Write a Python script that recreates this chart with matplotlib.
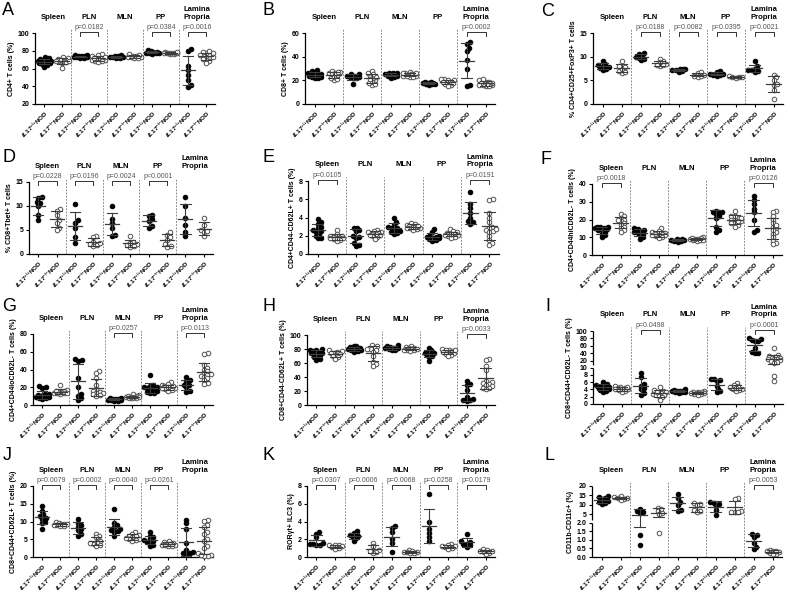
import numpy as np
import matplotlib
matplotlib.use('Agg')
import matplotlib.pyplot as plt

plt.rcParams['font.family'] = ['Liberation Sans', 'DejaVu Sans']
plt.rcParams['mathtext.fontset'] = 'custom'
plt.rcParams['mathtext.it'] = 'Liberation Sans:italic:bold'
plt.rcParams['mathtext.rm'] = 'Liberation Sans:bold'
plt.rcParams['mathtext.bf'] = 'Liberation Sans:bold'

TISSUES = ['Spleen', 'PLN', 'MLN', 'PP', 'Lamina\nPropria']
XLABELS = [r'$\mathit{IL17}^{{+}/{+}}$NOD', r'$\mathit{IL17}^{{-}/{-}}$NOD'] * 5

# values per tissue: Spleen, PLN, MLN, PP, Lamina Propria
A_WT = [[66, 68, 70, 72, 64, 67, 69, 71, 65, 73, 68, 66, 70, 62, 67],
        [73, 74, 75, 72, 73, 74, 73, 72, 75, 74],
        [73, 74, 72, 73, 75, 74, 73, 72],
        [78, 79, 80, 77, 78, 81, 79, 76, 78],
        [80, 82, 63, 53, 47, 39, 41, 58]]
A_KO = [[68, 70, 72, 66, 69, 71, 67, 73, 61, 68, 70, 69],
        [70, 72, 74, 76, 68, 69, 71, 73, 67, 70, 75, 72],
        [73, 74, 72, 75, 73, 74, 76, 72, 73],
        [77, 78, 76, 79, 77, 78, 77, 76, 78, 79],
        [72, 74, 76, 78, 80, 68, 70, 75, 77, 73, 71, 79, 66, 75]]

B_WT = [[22, 24, 25, 26, 27, 29, 23, 25, 24, 26, 28, 22, 25, 24, 23],
        [17, 22, 23, 24, 25, 24, 23, 25, 24, 22],
        [23, 25, 26, 25, 24, 26, 25, 24, 26, 22],
        [17, 18, 19, 17, 18, 16, 18, 17, 19, 18],
        [51, 52, 47, 45, 30, 37, 15, 16]]
B_KO = [[20, 22, 24, 26, 27, 28, 25, 23, 21, 26, 27],
        [16, 18, 20, 22, 24, 26, 28, 19, 23, 25, 21, 17],
        [23, 24, 25, 26, 27, 24, 25, 26, 25, 24, 26, 23],
        [16, 18, 19, 20, 21, 17, 19, 20, 18, 21, 15, 19],
        [15, 16, 17, 18, 19, 20, 21, 16, 17, 18, 15, 19, 17, 16]]

C_WT = [[7.5, 8, 8.5, 9, 7.2, 7.8, 8.2, 7.6],
        [9.5, 10, 10.5, 10.8, 9.2, 9.8, 10.2],
        [7, 7.2, 7.5, 7.3, 6.8, 7.4, 7.1],
        [6, 6.3, 6.8, 7, 6.2, 6.1, 6.4],
        [6.8, 7, 7.2, 7.5, 8, 9, 7.1]]
C_KO = [[6.5, 7, 7.5, 8, 9, 6.8, 7.8],
        [8, 8.5, 9, 9.5, 8.2, 8.8, 8.3],
        [5.8, 6, 6.5, 6.8, 6.2, 5.9],
        [5.5, 5.7, 5.8, 6, 5.6],
        [6.2, 5.6, 5.1, 4.1, 4.3, 3.0, 1.1]]

D_WT = [[11.8, 11.6, 10.9, 10.6, 10, 8.2, 7],
        [10.5, 7, 6.5, 5.5, 3.5, 2.2],
        [10, 7.2, 6.5, 5.5, 4, 3.8],
        [8.2, 8, 7.2, 6.8, 5.5, 5.8],
        [11.8, 10, 7.5, 6, 4.5, 3.8]]
D_KO = [[9.3, 9, 8.2, 7, 5.5, 5, 6.5],
        [3.8, 3.5, 2.5, 2, 1.8, 1.7, 2.2],
        [3.8, 2.5, 2, 1.8, 1.5, 2.2, 1.6],
        [4.5, 4, 3.5, 3, 2, 1.6, 1.5],
        [7.5, 6, 5, 4.5, 3.8, 4.8]]

E_WT = [[3.8, 3.5, 3.3, 3.0, 2.8, 2.6, 2.4, 2.2, 2.0, 1.8, 1.7, 2.5],
        [2.9, 2.8, 2.6, 2.0, 1.9, 1.8, 1.2, 1.0, 0.9, 2.5],
        [4.0, 3.5, 3.2, 3.0, 2.8, 2.6, 2.5, 2.4, 2.2, 2.3, 2.9],
        [2.7, 2.4, 2.1, 2.0, 1.9, 1.8, 1.7, 1.6, 1.5, 1.4, 1.9],
        [6.8, 5.5, 5.0, 4.5, 4.0, 3.5, 3.3, 3.6]]
E_KO = [[2.6, 2.2, 2.0, 1.9, 1.8, 1.7, 1.6, 1.5, 1.4, 1.8, 2.0, 1.7],
        [2.6, 2.5, 2.4, 2.3, 2.2, 2.1, 2.0, 1.9, 1.6, 2.2, 2.4, 2.1],
        [3.4, 3.3, 3.2, 3.1, 3.0, 2.9, 2.8, 2.7, 2.6, 3.0, 3.1, 2.9],
        [2.7, 2.5, 2.4, 2.3, 2.2, 2.1, 2.0, 1.9, 1.8, 2.2, 2.1],
        [6.0, 5.9, 4.5, 4.0, 3.5, 3.0, 2.8, 2.6, 2.4, 2.0, 1.5, 1.2, 1.0, 2.5, 2.7]]

F_WT = [[16, 15.5, 15, 14.5, 14, 13, 12, 11, 10, 15, 16, 14],
        [15, 14.5, 14, 13, 12, 11, 10, 9, 12.5, 13.5],
        [9, 8.5, 8, 7.5, 8.2, 8.8, 7.8, 8.4],
        [25, 24, 24, 23, 22, 16, 14, 13, 21, 24],
        [33, 31, 29, 26, 24, 20, 14, 13]]
F_KO = [[23, 22, 21, 20, 19, 18, 17, 16, 15, 14, 13, 20],
        [15, 13, 12.5, 12, 11.5, 11, 10.5, 10, 9.5, 12, 11, 13.5],
        [10, 9.5, 9, 8.5, 8, 8.8, 9.2, 8.3, 9.6, 8.7],
        [25, 22, 21, 20, 19, 18, 17, 16, 20, 21, 19, 22, 18],
        [25, 24, 22, 20, 18, 16, 15, 13, 12, 10, 8, 7, 6, 14, 17]]

G_WT = [[21, 20, 19, 12, 11, 10, 9, 8, 8, 7, 10, 9, 11, 12, 9],
        [52, 51, 50, 30, 20, 12, 10, 8, 6],
        [8, 7.5, 7, 6.5, 6, 5.5, 5, 7, 6, 5],
        [34, 23, 21, 20, 19, 18, 17, 16, 15, 14, 13, 20],
        [31, 28, 27, 23, 22, 20, 16, 15]]
G_KO = [[22, 17, 16, 15, 14, 13, 12, 14, 15, 13, 16],
        [38, 36, 30, 22, 18, 16, 15, 14, 13, 12, 11, 10],
        [12, 11, 10, 9, 8.5, 8, 9, 10, 8, 7.5, 9.5],
        [26, 24, 22, 21, 20, 19, 18, 17, 16, 20, 19, 21],
        [59, 58, 45, 42, 40, 38, 36, 35, 34, 33, 32, 30, 28, 25, 24]]

H_WT = [[80, 78, 77, 76, 75, 74, 73, 72, 70, 68, 66, 65, 75, 78],
        [85, 84, 83, 82, 81, 80, 79, 78, 77, 76, 82, 80],
        [86, 84, 83, 82, 81, 80, 79, 78, 82, 81],
        [81, 78, 76, 75, 74, 72, 70, 68, 63, 75],
        [35, 30, 28, 22, 12, 8, 7, 6, 7]]
H_KO = [[78, 77, 76, 75, 74, 73, 72, 70, 68, 66],
        [86, 84, 82, 80, 78, 76, 70, 62, 58, 56, 80],
        [85, 83, 82, 81, 80, 79, 78, 77, 80, 79],
        [80, 79, 78, 77, 76, 75, 74, 73, 72, 70, 78],
        [66, 64, 56, 50, 35, 33, 31, 30, 29, 27, 25, 24, 23]]

I_WT = [[6, 5.5, 5.2, 5, 4.8, 4.5, 4.3, 4, 3.8, 3.5, 3.3, 4.6, 5.1],
        [8.5, 7.3, 5.5, 5, 4.5, 4, 3, 2.5],
        [4, 3.8, 3.6, 3.5, 3.4, 3.3, 3.2, 3.1, 3.7, 3.5],
        [7, 6.8, 6.5, 6.2, 5, 4.2, 3.5, 3.4],
        [80, 78, 76, 74, 72, 55, 45, 40, 42]]
I_KO = [[5, 4.8, 4.5, 4.3, 4.1, 4, 3.8, 3.5, 3.3, 4.2, 4.6],
        [4.8, 3.8, 3.5, 3.2, 3, 2.8, 2.6, 2.5, 2.2, 1.8, 1.2, 3.3],
        [3.6, 3.4, 3.2, 3.1, 3, 2.9, 2.8, 2.7, 2.6, 3.3, 3],
        [5.8, 5.2, 5, 4.6, 4.2, 4, 3.8, 3.5, 4.4],
        [55, 35, 32, 30, 28, 27, 26, 25, 24, 22, 20, 17, 14, 7.7, 6.2]]

J_WT = [[14.5, 13, 12, 11.5, 11, 10.8, 10, 9.5, 8],
        [10.8, 9.5, 9, 8.5, 8, 7.5, 6.5, 5.8],
        [13.5, 9.5, 9, 8.5, 7.8, 7.5, 7, 6, 7.2],
        [7, 6, 5.5, 5, 4.5, 4.2, 4, 3.5, 3, 4.8],
        [10.5, 9.5, 8, 4, 2, 1.5, 1.2, 1, 0.8]]
J_KO = [[9.8, 9.5, 9.3, 9, 8.8, 8.6, 9.2, 9.4, 9.1],
        [6.5, 6, 5.5, 4.5, 4, 3.8, 3.5, 3.2, 4.2],
        [7, 6.5, 6.2, 6, 5.8, 5.5, 5.2, 5, 4.8, 4.5, 5.3],
        [4.5, 4.2, 4, 3.8, 3.6, 3.4, 3.2, 3, 3.5, 3.3],
        [10.5, 10.2, 9, 8.5, 7, 6.5, 5, 4.5, 3, 2.5, 1, 0.5, 0.3, 0.2, 0.5]]

K_WT = [[2.8, 2.6, 2.2, 1.6, 1.5, 1.4, 1.3, 1.5],
        [2.9, 2.7, 2.5, 2.3, 2.1, 1.8, 2.4],
        [3.5, 3.3, 2.8, 2.0, 1.6, 0.6],
        [7.1, 3.9, 3.2, 2.7, 2.3, 1.8],
        [2.6, 1.8, 1.7, 1.5, 1.3, 1.1, 1.5]]
K_KO = [[1.4, 1.3, 1.2, 1.1, 1.0, 0.9, 1.3],
        [1.6, 1.2, 0.8, 0.6, 0.5, 0.7],
        [0.8, 0.7, 0.6, 0.55, 0.5, 0.45, 0.6],
        [1.5, 1.3, 1.2, 1.1, 1.0, 0.9, 1.2],
        [0.9, 0.8, 0.7, 0.6, 0.5, 0.3, 0.7]]

L_WT = [[14.5, 14, 13.5, 13, 12, 11, 10.5, 11.5],
        [7.5, 6.5, 6.2, 5.5, 1.3, 0.7],
        [15.5, 13.5, 11.5, 10, 7, 6.5],
        [11.5, 11, 10.5, 9.5, 7, 4.5],
        [1.35, 1.3, 1.2, 0.8, 0.6, 0.45]]
L_KO = [[14.5, 14, 13.5, 13, 12.5, 13.8],
        [8.5, 7.5, 6.5, 5.5, 4.8, 1.4],
        [11, 10.5, 10, 7, 6.5, 6.2],
        [13.5, 13, 6.5, 6, 6.2, 6.3],
        [0.4, 0.38, 0.35, 0.3, 0.25, 0.2, 0.15, 0.38]]

YLABELS = {
    'A': 'CD4+ T cells (%)', 'B': 'CD8+ T cells (%)',
    'C': '% CD4+CD25+FoxP3+ T cells', 'D': '% CD8+Tbet+ T cells',
    'E': 'CD4+CD44-CD62L+ T cells (%)', 'F': 'CD4+CD44hiCD62L- T cells (%)',
    'G': 'CD4+CD44loCD62L- T cells (%)', 'H': 'CD8+CD44-CD62L+ T cells (%)',
    'I': 'CD8+CD44+CD62L- T cells (%)', 'J': 'CD8+CD44+CD62L+ T cells (%)',
    'K': 'RORγt+ ILC3 (%)', 'L': 'CD11b-CD11c+ (%)',
}

PVALS = {
    'A': [None, '0.0182', None, '0.0384', '0.0016'],
    'B': [None, None, None, None, '0.0002'],
    'C': [None, '0.0188', '0.0082', '0.0395', '0.0021'],
    'D': ['0.0228', '0.0196', '0.0024', '<0.0001', None],
    'E': ['0.0105', None, None, None, '0.0191'],
    'F': ['0.0018', None, None, None, '0.0126'],
    'G': [None, None, '0.0257', None, '0.0113'],
    'H': [None, None, None, None, '0.0033'],
    'I': [None, '0.0498', None, None, '<0.0001'],
    'J': ['0.0079', '0.0002', '0.0040', '0.0261', None],
    'K': ['0.0307', '0.0006', '0.0068', '0.0258', '0.0179'],
    'L': [None, None, None, None, '0.0053'],
}

YTICKS = {
    'A': [20, 40, 60, 80, 100], 'B': [0, 20, 40, 60], 'C': [0, 5, 10, 15],
    'D': [0, 5, 10, 15], 'E': [0, 2, 4, 6, 8], 'F': [0, 10, 20, 30, 40],
    'G': [0, 20, 40, 60, 80], 'H': [0, 20, 40, 60, 80, 100],
    'I': [0, 2, 4, 6, 8, 10, 20, 40, 60, 80, 100], 'J': [0, 5, 10, 15, 20],
    'K': [0, 2, 4, 6, 8], 'L': [0, 0.5, 1.0, 1.5, 2.0, 5, 10, 15, 20],
}
YTICKLABELS = {
    'L': ['0.0', '0.5', '1.0', '1.5', '2.0', '5', '10', '15', '20'],
}

# broken axes: (value at break, axes fraction of lower top, axes fraction of upper bottom)
BREAKS = {'I': (10, 0.498, 0.539), 'L': (2, 0.479, 0.526)}

DATA = {'A': (A_WT, A_KO), 'B': (B_WT, B_KO), 'C': (C_WT, C_KO),
        'D': (D_WT, D_KO), 'E': (E_WT, E_KO), 'F': (F_WT, F_KO),
        'G': (G_WT, G_KO), 'H': (H_WT, H_KO), 'I': (I_WT, I_KO),
        'J': (J_WT, J_KO), 'K': (K_WT, K_KO), 'L': (L_WT, L_KO)}

# axes rectangles in pixels: left, top, right, bottom
RECTS = {
    'A': (35, 33, 215, 104), 'B': (305, 33, 495, 104), 'C': (593, 33, 783, 104),
    'D': (29, 182, 213, 254), 'E': (308, 181, 499, 254), 'F': (592, 184, 782, 255),
    'G': (33, 334, 213, 405), 'H': (307, 335, 495, 405), 'I': (593, 331, 783, 404),
    'J': (33, 486, 213, 557), 'K': (307, 486, 495, 557), 'L': (592, 486, 782, 557),
}
LETTER_POS = {
    'A': (2, 2), 'B': (263, 2), 'C': (541, 3), 'D': (2, 149), 'E': (263, 149),
    'F': (541, 151), 'G': (2, 298), 'H': (263, 298), 'I': (545, 298),
    'J': (3, 447), 'K': (263, 447), 'L': (545, 447),
}

W, H = 790, 595


def break_funcs(b, f_lo, f_hi, ymax):
    def fwd(y):
        y = np.asarray(y, float)
        return np.where(y <= b, y / b * f_lo, f_hi + (y - b) / (ymax - b) * (1 - f_hi))

    def inv(f):
        f = np.asarray(f, float)
        lo = f / f_lo * b
        hi = b + (f - f_hi) / (1 - f_hi) * (ymax - b)
        return np.where(f <= f_lo, lo, np.where(f < f_hi, b, hi))
    return fwd, inv


def swarm_x(ax, x0, vals, d=3.2, maxoff=6.5):
    """Spread overlapping points sideways (pixel space), capped like a Prism dot plot."""
    pts = ax.transData.transform(np.column_stack([np.full(len(vals), x0), vals]))
    px_per_unit = ax.transData.transform((1, 0))[0] - ax.transData.transform((0, 0))[0]
    order = np.argsort(vals)
    cands = sorted(np.arange(-maxoff, maxoff + 0.01, 0.5), key=lambda o: (abs(o), o < 0))
    placed = []
    offs = np.zeros(len(vals))
    for i in order:
        y = pts[i, 1]
        best, best_d = 0.0, -1.0
        for o in cands:
            dmin = min([np.hypot(o - po, y - py) for po, py in placed] + [99.0])
            if dmin >= d:
                best = o
                break
            if dmin > best_d:
                best, best_d = o, dmin
        placed.append((best, y))
        offs[i] = best
    return x0 + offs / px_per_unit


def draw_panel(fig, key):
    l, t, r, b = RECTS[key]
    ax = fig.add_axes([l / W, 1 - b / H, (r - l) / W, (b - t) / H])
    wt, ko = DATA[key]
    yt = YTICKS[key]
    ymin, ymax = yt[0], yt[-1]
    if key in BREAKS:
        bv, f_lo, f_hi = BREAKS[key]
        ax.set_yscale('function', functions=break_funcs(bv, f_lo, f_hi, ymax))
    ax.set_xlim(-0.5, 9.5)
    ax.set_ylim(ymin, ymax)

    for s in ['top', 'right']:
        ax.spines[s].set_visible(False)
    for s in ['left', 'bottom']:
        ax.spines[s].set_linewidth(0.9)
    if key in BREAKS:
        ax.spines['left'].set_visible(False)
        for y0, y1 in [(0, f_lo), (f_hi, 1)]:
            ax.plot([0, 0], [y0, y1], transform=ax.transAxes, color='black',
                    lw=0.9, clip_on=False, solid_capstyle='butt')

    for t_i in range(5):
        for j, (vals, filled) in enumerate(((wt[t_i], True), (ko[t_i], False))):
            x0 = 2 * t_i + j
            vals = np.asarray(vals, float)
            xs = swarm_x(ax, x0, vals)
            ax.plot(xs, vals, 'o', ms=3.3, ls='none',
                    mfc='black' if filled else 'white',
                    mec='black' if filled else '#505050', mew=0.7,
                    zorder=3, clip_on=False)
            m, sd = vals.mean(), vals.std(ddof=1)
            c = '#3c3c3c'
            ax.plot([x0 - 0.38, x0 + 0.38], [m, m], color=c, lw=0.9, zorder=4)
            lo = max(m - sd, ymin)
            ax.plot([x0, x0], [lo, m + sd], color=c, lw=0.8, zorder=4)
            ax.plot([x0 - 0.28, x0 + 0.28], [m + sd, m + sd], color=c, lw=0.8, zorder=4)
            if m - sd > ymin:
                ax.plot([x0 - 0.28, x0 + 0.28], [m - sd, m - sd], color=c, lw=0.8, zorder=4)

    trans = ax.get_xaxis_transform()
    for sep in [1.5, 3.5, 5.5, 7.5]:
        ax.plot([sep, sep], [0, 1.06], transform=trans, color='#7a7a7a', lw=0.6,
                ls=(0, (2.2, 1.6)), clip_on=False)

    for t_i, name in enumerate(TISSUES):
        ax.text(2 * t_i + 0.5, 1.2, name, transform=trans, ha='center', va='baseline',
                fontsize=5.5, fontweight='bold', linespacing=1.15)
        p = PVALS[key][t_i]
        if p is not None:
            x1, x2 = 2 * t_i, 2 * t_i + 1
            ax.plot([x1, x1, x2, x2], [0.96, 1.015, 1.015, 0.96], transform=trans,
                    color='#333333', lw=0.7, clip_on=False)
            txt = 'p' + p if p.startswith('<') else 'p=' + p
            ax.text(2 * t_i + 0.5, 1.055, txt, transform=trans, ha='center',
                    va='baseline', fontsize=5, color='#555555')

    ax.set_xticks(np.arange(10))
    ax.set_xticklabels(XLABELS, rotation=45, ha='right', rotation_mode='anchor',
                       fontsize=4.5, fontweight='bold')
    ax.set_yticks(yt)
    ax.set_yticklabels(YTICKLABELS.get(key, [str(v) for v in yt]),
                       fontsize=5, fontweight='bold')
    ax.minorticks_off()
    ax.tick_params(axis='both', length=2.5, width=0.8, pad=1.5)
    ax.tick_params(axis='x', pad=0.8)
    ax.set_ylabel(YLABELS[key], fontsize=5, fontweight='bold', labelpad=2)

    lx, ly = LETTER_POS[key]
    fig.text(lx / W, 1 - ly / H, key, fontsize=13, ha='left', va='top')
    return ax


def main():
    fig = plt.figure(figsize=(7.9, 5.95), dpi=100, facecolor='white')
    for key in 'ABCDEFGHIJKL':
        draw_panel(fig, key)
    fig.savefig('out.png', dpi=100, facecolor='white')


if __name__ == '__main__':
    main()
